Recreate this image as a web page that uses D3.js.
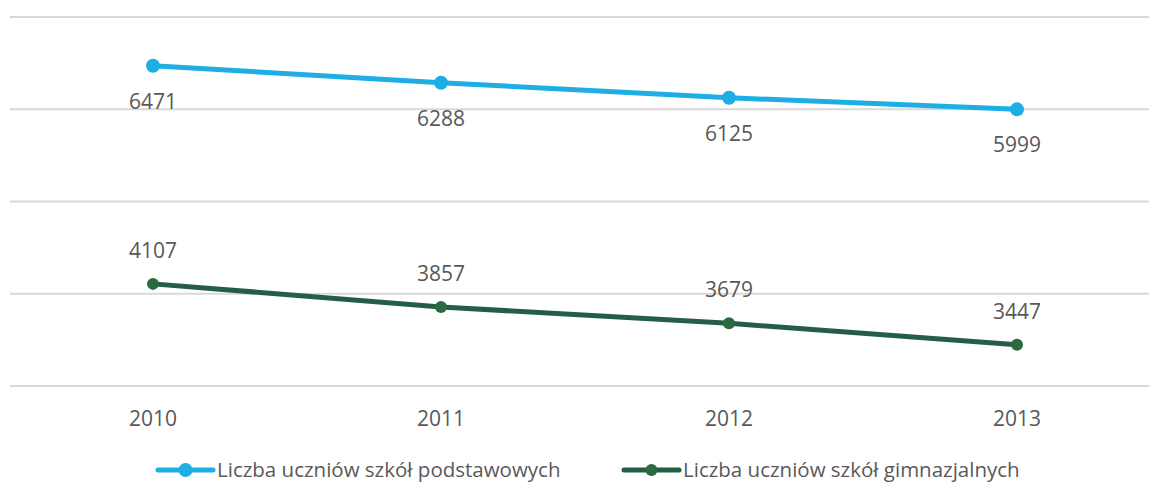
<!DOCTYPE html>
<html>
<head>
<meta charset="utf-8">
<script src="https://cdn.jsdelivr.net/npm/d3@7"></script>
<style>
  body { margin: 0; background: #fff; }
  svg { display: block; font-family: "Open Sans", sans-serif; }
</style>
</head>
<body>
<div id="chart"></div>
<script>
const years = ["2010", "2011", "2012", "2013"];
const primary = [6471, 6288, 6125, 5999];
const gimnazjum = [4107, 3857, 3679, 3447];
const yTicks = [3000, 4000, 5000, 6000, 7000];
const seriesNames = ["Liczba uczniów szkół podstawowych", "Liczba uczniów szkół gimnazjalnych"];

const width = 1149, height = 482;
const textColor = "#595959";

const series = [
  { name: seriesNames[0], values: primary, color: "#1eaee4", r: 7, labelDy: 43 },
  { name: seriesNames[1], values: gimnazjum, color: "#245f45", dot: "#2b6a40", r: 6, labelDy: -26 }
];

const svg = d3.select("#chart").append("svg")
  .attr("width", width)
  .attr("height", height);

const x = d3.scalePoint()
  .domain(years)
  .range([9, 1161])
  .padding(0.5);

const y = d3.scaleLinear()
  .domain([3000, 7000])
  .range([386, 17]);

// gridlines
svg.append("g").selectAll("line")
  .data(yTicks)
  .enter().append("line")
  .attr("x1", 10)
  .attr("x2", width)
  .attr("y1", d => y(d))
  .attr("y2", d => y(d))
  .attr("stroke", "#d9d9d9")
  .attr("stroke-width", 2);

// x labels
svg.append("g").selectAll("text")
  .data(years)
  .enter().append("text")
  .attr("x", d => x(d))
  .attr("y", 426)
  .attr("text-anchor", "middle")
  .attr("fill", textColor)
  .style("font-size", "21px")
  .text(d => d);

const line = d3.line()
  .x((d, i) => x(years[i]))
  .y(d => y(d));

series.forEach(s => {
  const g = svg.append("g");
  g.append("path")
    .datum(s.values)
    .attr("d", line)
    .attr("fill", "none")
    .attr("stroke", s.color)
    .attr("stroke-width", 5)
    .attr("stroke-linecap", "round");

  g.selectAll("circle")
    .data(s.values)
    .enter().append("circle")
    .attr("cx", (d, i) => x(years[i]))
    .attr("cy", d => y(d))
    .attr("r", s.r)
    .attr("fill", s.dot || s.color);

  g.selectAll("text")
    .data(s.values)
    .enter().append("text")
    .attr("x", (d, i) => x(years[i]))
    .attr("y", d => y(d) + s.labelDy)
    .attr("text-anchor", "middle")
    .attr("fill", textColor)
    .style("font-size", "21px")
    .text(d => d);
});

// legend
const legendX = [158, 624];
const legend = svg.append("g");
series.forEach((s, i) => {
  const lg = legend.append("g").attr("transform", `translate(${legendX[i]},470)`);
  lg.append("line")
    .attr("x1", 0).attr("x2", 55)
    .attr("y1", 0).attr("y2", 0)
    .attr("stroke", s.color)
    .attr("stroke-width", 5)
    .attr("stroke-linecap", "round");
  lg.append("circle")
    .attr("cx", 27.5).attr("cy", 0)
    .attr("r", s.r)
    .attr("fill", s.dot || s.color);
  lg.append("text")
    .attr("x", 59)
    .attr("y", 7)
    .attr("fill", textColor)
    .style("font-size", "20.5px")
    .text(s.name);
});
</script>
</body>
</html>
